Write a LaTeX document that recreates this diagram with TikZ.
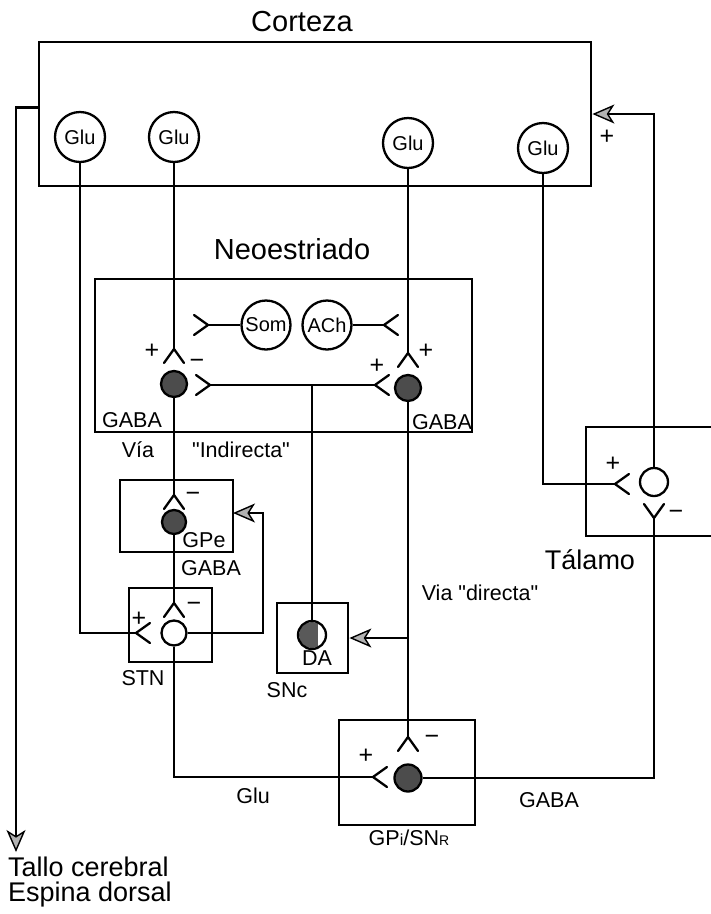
\documentclass[tikz,border=0pt]{standalone}
\usepackage{fontspec}
\setmainfont{Liberation Sans}[Ligatures=TeXOff]
\usetikzlibrary{arrows.meta,calc}
\newcommand{\lblfont}{\fontsize{21.5}{24}\selectfont}
\newcommand{\cellfont}{\fontsize{20}{23}\selectfont}
\newcommand{\sgnfont}{\fontsize{25}{27}\selectfont}
\newcommand{\ttlfont}{\fontsize{29}{32}\selectfont}
\newcommand{\bigfont}{\fontsize{27}{30}\selectfont}
\begin{document}
\begin{tikzpicture}[x=1pt,y=-1pt,
  box/.style={draw, line width=2.8pt, rectangle, inner sep=0pt},
  ln/.style={line width=2.3pt},
  syn/.style={line width=2.3pt, line cap=round},
  cell/.style={circle, draw, line width=2.3pt, inner sep=0pt},
  glu/.style={cell, minimum size=50pt, font=\cellfont},
  dark/.style={cell, minimum size=26pt, fill=black!70},
  hollowcell/.style={cell, minimum size=25pt, fill=white},
  lbl/.style={font=\lblfont, inner sep=0pt},
  sgn/.style={font=\sgnfont, inner sep=0pt},
  ttl/.style={font=\ttlfont, inner sep=0pt},
  bigt/.style={font=\bigfont, inner sep=0pt},
  arr/.style={-{Stealth[length=22pt,width=19pt,inset=6pt,fill=gray!60,line width=1.4pt]}},
  forkD/.pic={\draw[syn] (-10,14) -- (0,0) -- (10,14);},
  forkU/.pic={\draw[syn] (-10,-14) -- (0,0) -- (10,-14);},
  forkR/.pic={\draw[syn] (14,-10) -- (0,0) -- (14,10);},
  forkL/.pic={\draw[syn] (-14,-10) -- (0,0) -- (-14,10);},
]
\useasboundingbox (0,0) rectangle (711,914);

% ---- boxes and titles
\node[box, minimum width=552pt, minimum height=144pt] (ctx) at (315,114) {};
\node[ttl] (tctx) at (302,22) {Corteza};
\node[box, minimum width=377pt, minimum height=153pt] (str) at (283.5,355.5) {};
\node[ttl] (tstr) at (292,249) {Neoestriado};
\node[box, minimum width=113pt, minimum height=72pt] (gpe) at (176.5,516) {};
\node[box, minimum width=83pt, minimum height=74pt] (stn) at (170.5,625) {};
\node[box, minimum width=71pt, minimum height=70pt] (snc) at (312.5,638) {};
\node[box, minimum width=136pt, minimum height=105pt] (gpi) at (407,772.5) {};
\node[box, minimum width=160pt, minimum height=109pt] (thal) at (666,481.5) {};
\node[bigt] (tthal) at (590,560) {Tálamo};

% ---- cells
\node[glu] (g1) at (80,137) {Glu};
\node[glu] (g2) at (174,137) {Glu};
\node[glu] (g3) at (408,143) {Glu};
\node[glu] (g4) at (543,148) {Glu};
\node[glu, minimum size=49pt] (som) at (266,325) {Som};
\node[glu, minimum size=49pt] (ach) at (327,325) {ACh};
\node[dark] (n1) at (174,384) {};
\node[dark] (n2) at (408,388) {};
\node[dark, minimum size=24pt] (gpen) at (174,522) {};
\node[hollowcell] (stnn) at (174,633) {};
\coordinate (dac) at (312,635);
\begin{scope}
  \clip (dac) circle (13pt);
  \fill[black!65] (dac) ++(-15,-15) rectangle ++(21,30);
\end{scope}
\node[cell, minimum size=28pt] (da) at (dac) {};
\node[dark, minimum size=27pt] (gpin) at (408,778) {};
\node[hollowcell, minimum size=28pt] (thn) at (654,482) {};

% ---- synapses
\coordinate (s1) at (174,349); \pic at (s1) {forkD};
\coordinate (s2) at (408,353); \pic at (s2) {forkD};
\coordinate (dl) at (210,385); \pic at (dl) {forkL};
\coordinate (dr) at (375,385); \pic at (dr) {forkR};
\coordinate (sl) at (208,325); \pic at (sl) {forkL};
\coordinate (sr) at (384,325); \pic at (sr) {forkR};
\coordinate (e1) at (174,495); \pic at (e1) {forkD};
\coordinate (t1) at (174,603); \pic at (t1) {forkD};
\coordinate (t2) at (136,633); \pic at (t2) {forkR};
\coordinate (p1) at (408,737); \pic at (p1) {forkD};
\coordinate (p2) at (373,777); \pic at (p2) {forkR};
\coordinate (h1) at (615,484); \pic at (h1) {forkR};
\coordinate (h2) at (654,518); \pic at (h2) {forkU};
\coordinate (tallo) at (16,852);
\coordinate (gpein) at (233,513);

% ---- connectors
\draw[ln] (g2) -- (s1);
\draw[ln] (g3) -- (s2);
\draw[ln] (dl) -- (dr);
\draw[ln] (da) -- (da |- dl);
\draw[ln] (som) -- (sl);
\draw[ln] (ach) -- (sr);
\draw[ln] (n1) -- (e1);
\draw[ln] (gpen) -- (t1);
\draw[ln] (g1.south) |- (t2);
\draw[ln,arr] (stnn) -- (263,633) -- (263,513) -- (gpein);
\draw[ln] (n2) -- (p1);
\draw[ln,arr] (n2 |- snc.east) -- (snc.east);
\draw[ln] (stnn.south) |- (p2);
\draw[ln] (gpin.east) -| (h2);
\draw[ln] (g4.south) |- (h1);
\draw[ln,arr] (thn.north) |- (ctx.east);
\draw[ln,arr] ($(ctx.north west)+(0,67)$) -| (tallo);

% ---- labels
\node[sgn] (pc) at (607,137) {+};
\node[sgn] (p1a) at (152,351) {+};
\node[sgn] (m1a) at (197,364) {−};
\node[sgn] (p2a) at (377,366) {+};
\node[sgn] (p2b) at (426,351) {+};
\node[lbl] (lg1) at (132,420) {GABA};
\node[lbl] (lg2) at (442,422) {GABA};
\node[lbl] (lvia) at (138,450) {Vía};
\node[lbl] (lind) at (241,450) {"Indirecta"};
\node[sgn] (m3) at (193,497) {−};
\node[lbl] (lgpe) at (204,540) {GPe};
\node[lbl] (lg3) at (211,568) {GABA};
\node[sgn] (p4) at (139,619) {+};
\node[sgn] (m4) at (194,607) {−};
\node[lbl] (lstn) at (143,678) {STN};
\node[lbl] (lda) at (317,658) {DA};
\node[lbl] (lsnc) at (287,690) {SNc};
\node[lbl] (ldir) at (480,593) {Via "directa"};
\node[sgn] (m5) at (432,740) {−};
\node[sgn] (p5) at (366,756) {+};
\node[lbl] (lglu) at (253,796) {Glu};
\node[lbl] (lg4) at (549,800) {GABA};
\node[lbl] (lgpi) at (409,838) {GP{\fontsize{16}{18}\selectfont i}/SN{\fontsize{14}{16}\selectfont R}};
\node[sgn] (p6) at (613,464) {+};
\node[sgn] (m6) at (676,515) {−};
\node[bigt, anchor=west] (ltallo) at (8,867) {Tallo cerebral};
\node[bigt, anchor=west] (lesp) at (8,895) {Espina dorsal};
\end{tikzpicture}
\end{document}
